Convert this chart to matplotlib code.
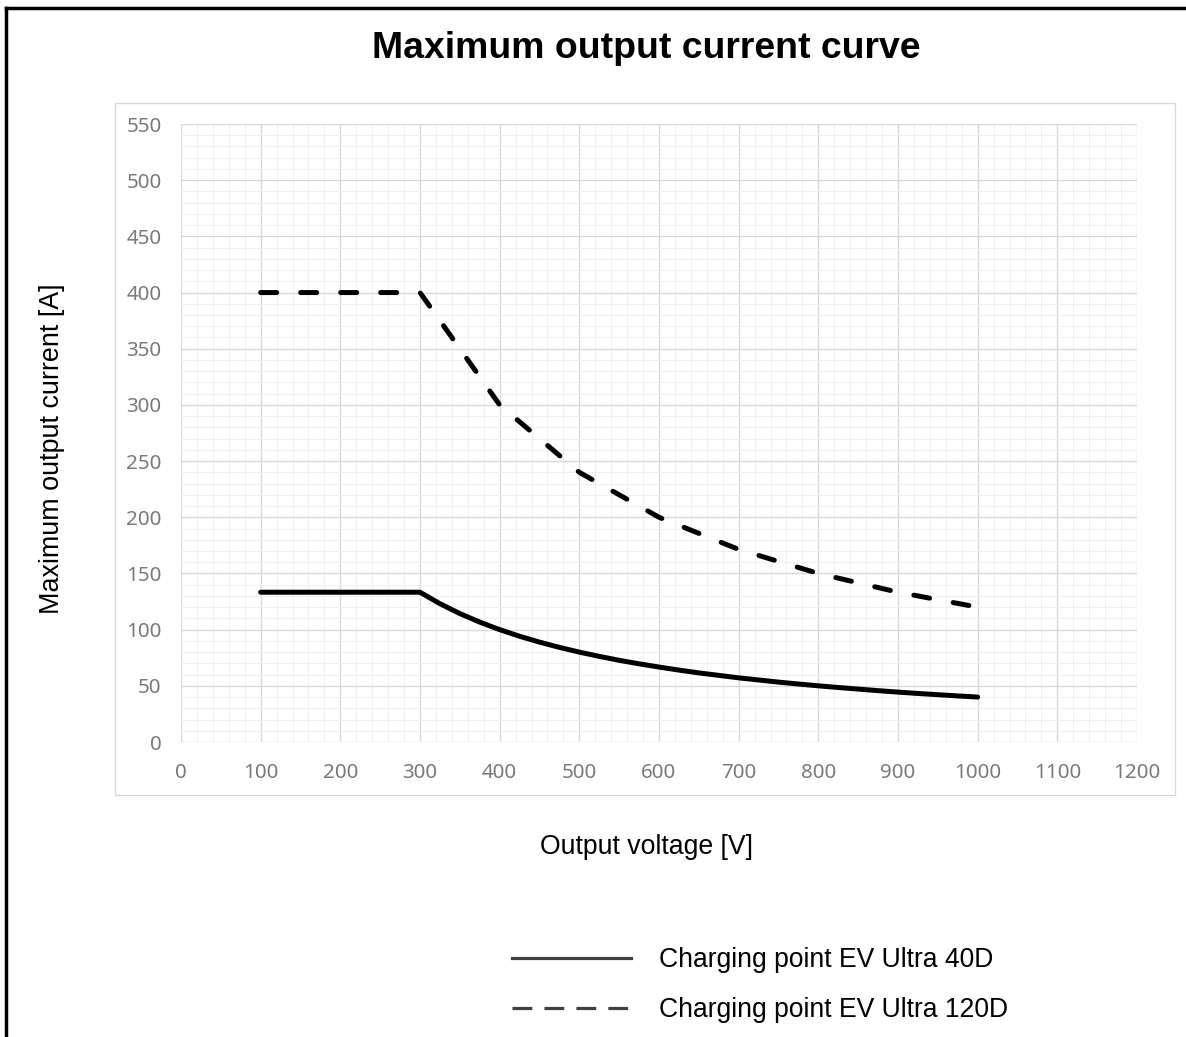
import matplotlib
matplotlib.use("Agg")
import matplotlib.pyplot as plt
from matplotlib.lines import Line2D
from matplotlib.patches import Rectangle

# values
volt_40d = [100, 300, 325, 350, 375, 400, 425, 450, 475, 500, 525, 550, 575, 600,
            625, 650, 675, 700, 725, 750, 775, 800, 825, 850, 875, 900, 925, 950,
            975, 1000]
amps_40d = [133.3, 133.3, 123.1, 114.3, 106.7, 100.0, 94.1, 88.9, 84.2, 80.0,
            76.2, 72.7, 69.6, 66.7, 64.0, 61.5, 59.3, 57.1, 55.2, 53.3, 51.6,
            50.0, 48.5, 47.1, 45.7, 44.4, 43.2, 42.1, 41.0, 40.0]

volt_120d = [100, 300, 400, 500, 600, 700, 800, 900, 1000]
amps_120d = [400, 400, 300, 240, 200, 171.4, 150, 133.3, 120]

labels = ["Charging point EV Ultra 40D", "Charging point EV Ultra 120D"]
x_ticks = list(range(0, 1201, 100))
y_ticks = list(range(0, 551, 50))

W, H = 1186, 1037
fig = plt.figure(figsize=(W / 100, H / 100), dpi=100)
ax = fig.add_axes([181 / W, 1 - 742 / H, (1137 - 181) / W, (742 - 124) / H])

ax.plot(volt_40d, amps_40d, color="black", lw=3.6, solid_capstyle="round",
        solid_joinstyle="round")
ax.plot(volt_120d, amps_120d, color="black", lw=3.6, dashes=(3.2, 4.8),
        dash_capstyle="round", dash_joinstyle="round")

ax.set_xlim(0, 1200)
ax.set_ylim(0, 550)
ax.set_xticks(x_ticks)
ax.set_yticks(y_ticks)
ax.set_xticks(range(0, 1201, 20), minor=True)
ax.set_yticks(range(0, 551, 10), minor=True)
ax.grid(which="major", color="#d9d9d9", lw=1.0)
ax.grid(which="minor", color="#f0f0f0", lw=0.8)
ax.set_axisbelow(True)
for s in ax.spines.values():
    s.set_visible(False)
ax.tick_params(which="both", length=0)
ax.tick_params(axis="y", pad=14, labelsize=14.8, labelcolor="#7a7a7a")
ax.tick_params(axis="x", pad=15, labelsize=14.8, labelcolor="#7a7a7a")
for lab in ax.get_xticklabels() + ax.get_yticklabels():
    lab.set_family("Noto Sans")

# chart area frame
fig.add_artist(Rectangle((115 / W, 1 - 795 / H), 1060 / W, 692 / H,
                         transform=fig.transFigure, fill=False,
                         edgecolor="#d9d9d9", lw=1))

# outer border (top and left only)
fig.add_artist(Line2D([6 / W, 1], [1 - 8 / H, 1 - 8 / H], transform=fig.transFigure,
                      color="black", lw=2.5))
fig.add_artist(Line2D([6 / W, 6 / W], [0, 1 - 8 / H], transform=fig.transFigure,
                      color="black", lw=2.5))

fig.text(646 / W, 1 - 49 / H, "Maximum output current curve", ha="center",
         va="center", fontsize=26.9, fontweight="bold", family="Liberation Sans")
fig.text(52 / W, 1 - 449 / H, "Maximum output current [A]", rotation=90,
         ha="center", va="center", fontsize=19.4, family="Liberation Sans")
fig.text(646 / W, 1 - 847 / H, "Output voltage [V]", ha="center", va="center",
         fontsize=19.2, family="Liberation Sans")

handles = [Line2D([], [], color="#404040", lw=2.3),
           Line2D([], [], color="#404040", lw=2.3, dashes=(6.2, 3.8))]
fig.legend(handles, labels, loc="center left", bbox_to_anchor=(488 / W, 1 - 985 / H),
           frameon=False, prop={"family": "Liberation Sans", "size": 19.1},
           handlelength=4.5, handletextpad=1.05, labelspacing=0.9)

fig.savefig("out.png", dpi=100)
